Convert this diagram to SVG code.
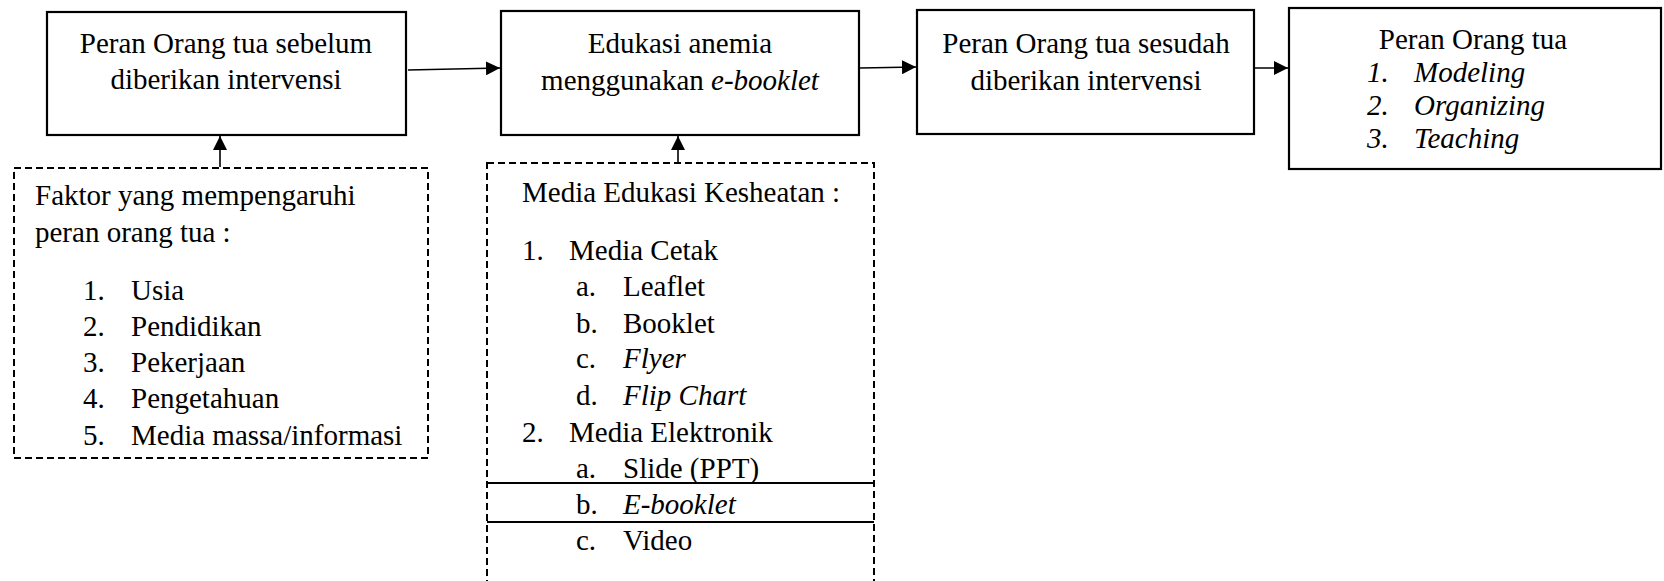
<svg xmlns="http://www.w3.org/2000/svg" width="1664" height="581" viewBox="0 0 1664 581">
<style>
.i{font-style:italic}
.box{fill:#fff;stroke:#000;stroke-width:2.2}
.dash{fill:#fff;stroke:#000;stroke-width:2;stroke-dasharray:7,4}
.ln{stroke:#000;stroke-width:1.6;fill:none}
</style>
<defs>
<marker id="ah" viewBox="0 0 10 10" refX="10" refY="5" markerWidth="14" markerHeight="14" markerUnits="userSpaceOnUse" orient="auto">
<path d="M0,0 L10,5 L0,10 Z" fill="#000"/>
</marker>
</defs>
<g id="n1" font-family="Liberation Serif" font-size="29" text-anchor="middle">
<rect class="box" x="47" y="12" width="359" height="123"/>
<text x="226" y="53" font-family="Liberation Serif">Peran Orang tua sebelum</text>
<text x="226" y="89" font-family="Liberation Serif">diberikan intervensi</text>
</g>
<g id="n2" font-family="Liberation Serif" font-size="29" text-anchor="middle">
<rect class="box" x="501" y="11" width="358" height="124"/>
<text x="680" y="53" font-family="Liberation Serif">Edukasi anemia</text>
<text x="680" y="90" font-family="Liberation Serif">menggunakan <tspan font-style="italic">e-booklet</tspan></text>
</g>
<g id="n3" font-family="Liberation Serif" font-size="29" text-anchor="middle">
<rect class="box" x="917" y="10" width="337" height="124"/>
<text x="1086" y="53" font-family="Liberation Serif">Peran Orang tua sesudah</text>
<text x="1086" y="90" font-family="Liberation Serif">diberikan intervensi</text>
</g>
<g id="n4" font-family="Liberation Serif" font-size="29">
<rect class="box" x="1289" y="8" width="372" height="161"/>
<text x="1473" y="49" text-anchor="middle" font-family="Liberation Serif">Peran Orang tua</text>
<text x="1367" y="82" font-family="Liberation Serif" font-style="italic">1.</text><text x="1414" y="82" font-family="Liberation Serif" font-style="italic">Modeling</text>
<text x="1367" y="115" font-family="Liberation Serif" font-style="italic">2.</text><text x="1414" y="115" font-family="Liberation Serif" font-style="italic">Organizing</text>
<text x="1367" y="148" font-family="Liberation Serif" font-style="italic">3.</text><text x="1414" y="148" font-family="Liberation Serif" font-style="italic">Teaching</text>
</g>
<g id="n5" font-family="Liberation Serif" font-size="29">
<rect class="dash" x="14" y="168" width="414" height="290"/>
<text x="35" y="205" font-family="Liberation Serif">Faktor yang mempengaruhi</text>
<text x="35" y="242" font-family="Liberation Serif">peran orang tua :</text>
<text x="83" y="300" font-family="Liberation Serif">1.</text><text x="131" y="300" font-family="Liberation Serif">Usia</text>
<text x="83" y="336" font-family="Liberation Serif">2.</text><text x="131" y="336" font-family="Liberation Serif">Pendidikan</text>
<text x="83" y="372" font-family="Liberation Serif">3.</text><text x="131" y="372" font-family="Liberation Serif">Pekerjaan</text>
<text x="83" y="408" font-family="Liberation Serif">4.</text><text x="131" y="408" font-family="Liberation Serif">Pengetahuan</text>
<text x="83" y="445" font-family="Liberation Serif">5.</text><text x="131" y="445" font-family="Liberation Serif">Media massa/informasi</text>
</g>
<g id="n6" font-family="Liberation Serif" font-size="29">
<rect class="dash" x="487" y="163" width="387" height="430"/>
<line x1="487" y1="483" x2="874" y2="483" stroke="#000" stroke-width="2.2"/>
<line x1="487" y1="522" x2="874" y2="522" stroke="#000" stroke-width="2.2"/>
<text x="522" y="202" font-family="Liberation Serif">Media Edukasi Kesheatan :</text>
<text x="522" y="260" font-family="Liberation Serif">1.</text><text x="569" y="260" font-family="Liberation Serif">Media Cetak</text>
<text x="576" y="296" font-family="Liberation Serif">a.</text><text x="623" y="296" font-family="Liberation Serif">Leaflet</text>
<text x="576" y="333" font-family="Liberation Serif">b.</text><text x="623" y="333" font-family="Liberation Serif">Booklet</text>
<text x="576" y="368" font-family="Liberation Serif">c.</text><text x="623" y="368" font-family="Liberation Serif" font-style="italic">Flyer</text>
<text x="576" y="405" font-family="Liberation Serif">d.</text><text x="623" y="405" font-family="Liberation Serif" font-style="italic">Flip Chart</text>
<text x="522" y="442" font-family="Liberation Serif">2.</text><text x="569" y="442" font-family="Liberation Serif">Media Elektronik</text>
<text x="576" y="478" font-family="Liberation Serif">a.</text><text x="623" y="478" font-family="Liberation Serif">Slide (PPT)</text>
<text x="576" y="514" font-family="Liberation Serif">b.</text><text x="623" y="514" font-family="Liberation Serif" font-style="italic">E-booklet</text>
<text x="576" y="550" font-family="Liberation Serif">c.</text><text x="623" y="550" font-family="Liberation Serif">Video</text>
</g>
<g id="connectors">
<line class="ln" x1="408" y1="70" x2="500" y2="68" marker-end="url(#ah)"/>
<line class="ln" x1="860" y1="68" x2="916" y2="67" marker-end="url(#ah)"/>
<line class="ln" x1="1255" y1="68" x2="1288" y2="68" marker-end="url(#ah)"/>
<line class="ln" x1="220" y1="167" x2="220" y2="136" marker-end="url(#ah)"/>
<line class="ln" x1="678" y1="162" x2="678" y2="136" marker-end="url(#ah)"/>
</g>
</svg>
